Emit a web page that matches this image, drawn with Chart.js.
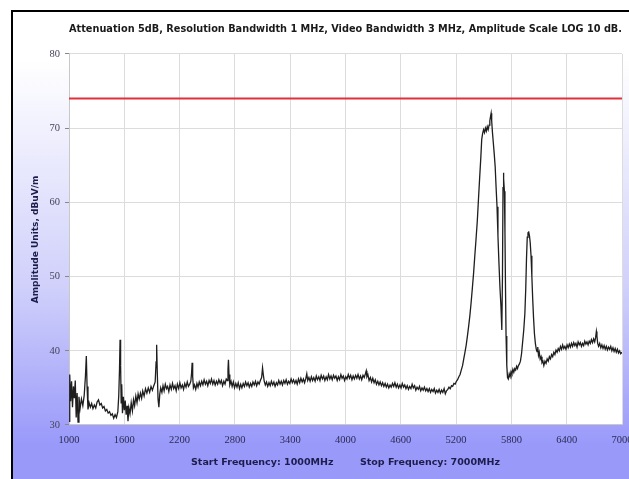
<!DOCTYPE html>
<html><head><meta charset="utf-8">
<script src="https://cdn.jsdelivr.net/npm/chart.js@4"></script>
<style>html,body{margin:0;padding:0;background:#fff}canvas{display:block}</style>
</head><body>
<canvas id="c" width="629" height="479"></canvas>
<script>
const chartTitle = "Attenuation 5dB, Resolution Bandwidth 1 MHz, Video Bandwidth 3 MHz, Amplitude Scale LOG 10 dB.";
const yAxisTitle = "Amplitude Units, dBuV/m";
const xAxisTitle = "Start Frequency: 1000MHz        Stop Frequency: 7000MHz";
const xTicks = [1000,1600,2200,2800,3400,4000,4600,5200,5800,6400,7000];
const yTicks = [30,40,50,60,70,80];
const limitFreqs = [1000,7000];
const limitLevels = [74,74];
const freqs = [1000,1008,1018,1028,1038,1048,1058,1068,1078,1088,1098,1108,1120,1135,1150,1165,1178,1188,1196,1206,1218,1232,1246,1260,1275,1290,1305,1320,1335,1350,1365,1380,1395,1410,1425,1440,1455,1470,1485,1500,1515,1530,1540,1548,1554,1560,1566,1572,1580,1590,1600,1610,1620,1630,1640,1650,1662,1675,1688,1700,1712,1725,1738,1750,1762,1775,1788,1800,1815,1830,1845,1860,1875,1890,1905,1920,1935,1945,1951,1958,1966,1975,1985,1995,2008,2020,2032,2045,2058,2070,2083,2096,2110,2123,2136,2150,2163,2176,2190,2203,2216,2230,2243,2256,2270,2283,2296,2310,2322,2330,2336,2342,2350,2362,2375,2388,2400,2413,2426,2440,2453,2466,2480,2493,2506,2520,2533,2546,2560,2573,2586,2600,2613,2626,2640,2653,2666,2680,2693,2706,2718,2725,2730,2736,2745,2758,2770,2783,2796,2810,2823,2836,2850,2863,2876,2890,2903,2916,2930,2943,2956,2970,2983,2996,3010,3023,3036,3050,3063,3076,3090,3100,3108,3118,3130,3143,3156,3170,3183,3196,3210,3223,3236,3250,3263,3276,3290,3303,3316,3330,3343,3356,3370,3383,3396,3410,3423,3436,3450,3463,3476,3490,3503,3516,3530,3543,3556,3570,3580,3590,3603,3616,3630,3643,3656,3670,3683,3696,3710,3723,3736,3750,3763,3776,3790,3803,3816,3830,3843,3856,3870,3883,3896,3910,3923,3936,3950,3963,3976,3990,4003,4016,4030,4043,4056,4070,4083,4096,4110,4123,4136,4150,4163,4176,4190,4203,4216,4225,4232,4243,4256,4270,4283,4296,4310,4323,4336,4350,4363,4376,4390,4403,4416,4430,4443,4456,4470,4483,4496,4510,4523,4536,4550,4563,4576,4590,4603,4616,4630,4643,4656,4670,4683,4696,4710,4723,4736,4750,4763,4776,4790,4803,4816,4830,4843,4856,4870,4883,4896,4910,4923,4936,4950,4963,4976,4990,5003,5016,5030,5043,5056,5070,5083,5096,5110,5123,5136,5150,5163,5176,5190,5203,5216,5230,5243,5256,5270,5283,5296,5310,5323,5336,5350,5363,5376,5390,5403,5416,5430,5443,5456,5468,5478,5488,5498,5508,5518,5528,5538,5548,5558,5566,5574,5580,5586,5594,5604,5614,5624,5634,5644,5654,5665,5676,5687,5696,5703,5709,5713,5718,5724,5730,5736,5742,5750,5758,5766,5776,5786,5796,5806,5816,5826,5836,5846,5856,5866,5876,5886,5898,5910,5922,5934,5946,5956,5964,5972,5980,5988,5996,6004,6013,6022,6031,6040,6050,6060,6070,6078,6086,6094,6102,6112,6122,6132,6142,6152,6164,6176,6188,6200,6212,6224,6236,6248,6260,6272,6284,6296,6308,6320,6332,6344,6356,6368,6380,6392,6404,6416,6428,6440,6452,6464,6476,6488,6500,6512,6524,6536,6548,6560,6572,6584,6596,6608,6620,6632,6644,6656,6668,6680,6692,6704,6714,6722,6728,6736,6746,6758,6770,6782,6794,6806,6818,6830,6842,6854,6866,6878,6890,6902,6914,6926,6938,6950,6962,6974,6986,7000];
const amps = [30.5,36.8,33.2,35.9,32.4,35.2,33.6,36.0,31.0,34.3,30.4,33.8,32.2,33.5,32.6,34.0,36.5,39.3,35.2,32.1,33.0,32.4,32.9,32.2,32.7,32.3,33.1,33.4,32.7,32.9,32.3,32.5,31.9,32.1,31.6,31.8,31.3,31.5,30.9,31.4,31.0,31.8,34.0,37.5,41.5,38.0,33.0,35.5,31.6,33.8,32.0,33.3,31.4,32.6,30.5,32.3,31.5,33.0,31.9,33.4,32.6,33.9,33.0,34.2,33.5,34.3,33.6,34.6,33.9,34.9,34.3,35.0,34.4,35.2,34.7,35.3,35.8,38.5,40.8,37.0,33.5,32.4,34.2,35.0,34.4,35.3,34.6,35.5,34.9,35.2,34.5,35.4,34.8,35.6,34.9,35.3,34.6,35.5,34.9,35.7,35.0,35.4,34.8,35.6,35.1,35.8,35.2,35.5,35.9,37.0,38.4,36.5,35.0,35.4,34.8,35.6,35.1,35.8,35.3,35.9,35.4,36.1,35.5,35.9,35.3,36.0,35.6,36.2,35.5,36.0,35.4,35.9,35.5,36.1,35.6,36.0,35.3,35.9,35.5,36.2,36.0,37.5,38.8,36.8,35.4,35.9,35.2,35.8,35.0,35.6,35.1,35.7,34.9,35.5,35.0,35.6,35.2,35.8,35.3,35.7,35.1,35.6,35.2,35.8,35.4,35.9,35.3,35.8,35.5,36.0,36.4,37.7,36.8,35.9,35.4,35.8,35.2,35.7,35.3,35.9,35.4,35.8,35.2,35.7,35.4,36.0,35.5,35.9,35.4,36.0,35.6,36.1,35.5,35.9,35.6,36.2,35.7,36.1,35.6,36.0,35.5,36.2,35.7,36.3,35.8,36.2,35.7,36.3,36.9,36.0,36.4,35.9,36.5,36.0,36.4,35.9,36.6,36.1,36.5,36.0,36.7,36.2,36.6,36.0,36.5,36.1,36.8,36.2,36.6,36.1,36.7,36.3,36.6,36.0,36.5,36.1,36.8,36.3,36.6,36.0,36.5,36.2,36.8,36.3,36.7,36.1,36.6,36.2,36.7,36.3,36.8,36.2,36.6,36.1,36.7,36.4,36.9,37.3,36.5,36.8,36.0,36.4,35.8,36.3,35.7,36.1,35.5,35.9,35.4,35.8,35.3,35.7,35.2,35.6,35.1,35.5,35.0,35.4,35.1,35.6,35.2,35.7,35.1,35.5,35.0,35.4,35.0,35.6,35.1,35.4,34.9,35.3,34.8,35.2,34.9,35.5,35.0,35.3,34.7,35.1,34.8,35.2,34.6,35.0,34.7,35.1,34.6,34.9,34.5,34.9,34.4,34.8,34.5,34.9,34.3,34.7,34.4,34.8,34.3,34.7,34.4,34.9,34.2,34.6,34.8,35.1,34.9,35.3,35.2,35.6,35.5,35.9,36.1,36.5,36.8,37.4,38.0,38.9,39.8,40.8,42.0,43.3,44.8,46.5,48.4,50.5,52.8,55.0,57.5,60.5,63.4,66.0,68.5,69.3,69.8,69.4,70.0,69.6,70.2,69.8,70.4,71.0,71.6,72.0,71.0,69.5,68.0,66.5,64.8,62.0,59.4,55.5,51.8,48.5,45.9,42.8,50.0,62.0,64.0,63.2,61.5,56.0,48.5,42.0,38.0,36.4,36.2,36.9,36.5,37.2,36.9,37.5,37.1,37.6,37.4,37.9,37.6,38.0,38.2,38.6,39.6,41.2,42.8,45.0,48.5,52.5,55.3,55.9,56.0,55.5,54.6,52.8,50.0,47.0,44.5,42.3,41.0,40.2,39.9,40.5,39.4,39.8,38.9,39.2,38.4,38.6,38.0,38.6,38.3,38.9,38.6,39.2,38.9,39.5,39.2,39.8,39.5,40.1,39.8,40.3,40.0,40.6,40.2,40.8,40.3,40.6,40.2,40.8,40.4,40.9,40.5,41.0,40.6,41.1,40.7,41.0,40.5,41.2,40.8,41.1,40.6,41.0,40.7,41.3,40.9,41.2,40.8,41.3,41.0,41.5,41.1,41.6,41.2,41.8,42.6,42.0,41.0,40.6,41.0,40.4,40.8,40.3,40.7,40.2,40.6,40.1,40.5,40.2,40.6,40.0,40.4,39.9,40.3,39.8,40.2,39.7,40.0,39.6,39.8];

const bgPlugin = {
  id: 'bg',
  beforeDraw(chart) {
    const {ctx, chartArea: a, width: w, height: h} = chart;
    ctx.save();
    ctx.fillStyle = '#ffffff';
    ctx.fillRect(0, 0, w, h);
    const g = ctx.createLinearGradient(0, 60, 0, 445);
    g.addColorStop(0, '#ffffff');
    g.addColorStop(0.6, '#cfcffb');
    g.addColorStop(1, '#9999fa');
    ctx.fillStyle = g;
    ctx.fillRect(12, 12, w - 12, h - 12);
    ctx.fillStyle = '#000000';
    ctx.fillRect(11, 10, w - 11, 2);
    ctx.fillRect(11, 10, 2, h - 10);
    ctx.fillStyle = '#ffffff';
    ctx.fillRect(a.left, a.top, a.right - a.left, a.bottom - a.top);
    ctx.restore();
  }
};

new Chart(document.getElementById('c'), {
  type: 'line',
  data: {
    datasets: [
      {
        data: freqs.map((f, i) => ({x: f, y: amps[i]})),
        borderColor: '#1e1e1e', borderWidth: 1.3, pointRadius: 0, tension: 0
      },
      {
        data: limitFreqs.map((f, i) => ({x: f, y: limitLevels[i]})),
        borderColor: '#e0303a', borderWidth: 2, pointRadius: 0, tension: 0
      }
    ]
  },
  options: {
    responsive: false,
    animation: false,
    devicePixelRatio: 1,
    layout: {padding: {left: 0, right: 7, top: 0, bottom: 0}},
    plugins: {
      legend: {display: false},
      tooltip: {enabled: false},
      title: {
        display: true, text: chartTitle, fullSize: false, color: '#1a1a1a',
        font: {family: 'DejaVu Sans', size: 9.8, weight: 'bold'},
        padding: {top: 24, bottom: 18.2}
      }
    },
    scales: {
      x: {
        type: 'linear', min: 1000, max: 7000,
        afterBuildTicks: s => { s.ticks = xTicks.map(v => ({value: v})); },
        afterFit: s => { s.height = 54; s.paddingLeft = 0; s.paddingRight = 0; },
        grid: {color: '#dcdcdc', drawTicks: false},
        border: {color: '#c8c8c8'},
        ticks: {color: '#2b2b55', font: {family: 'Liberation Serif', size: 10.5}, padding: 9, maxRotation: 0, autoSkip: false, callback: v => String(v)},
        title: {display: true, text: xAxisTitle, color: '#1d1d4d', font: {family: 'DejaVu Sans', size: 9.5, weight: 'bold'}, padding: {top: 0, bottom: 11}}
      },
      y: {
        min: 30, max: 80,
        afterBuildTicks: s => { s.ticks = yTicks.map(v => ({value: v})); },
        afterFit: s => { s.width = 69; s.paddingTop = 0; s.paddingBottom = 0; },
        grid: {color: '#dcdcdc', tickColor: '#888888', tickLength: 4},
        border: {color: '#c8c8c8'},
        ticks: {color: '#44445a', font: {family: 'Liberation Serif', size: 10.5}, padding: 5, callback: v => String(v)},
        title: {display: true, text: yAxisTitle, color: '#1d1d4d', font: {family: 'DejaVu Sans', size: 9, weight: 'bold'}, padding: {top: 30, bottom: 0}}
      }
    }
  },
  plugins: [bgPlugin]
});
</script>
</body></html>
